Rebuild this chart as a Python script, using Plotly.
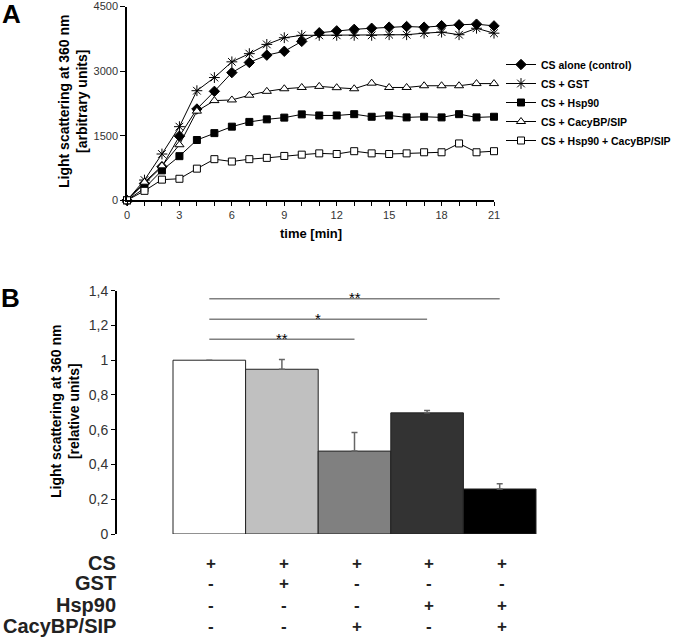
import plotly.graph_objects as go

W, H = 678, 638
FONT = "Liberation Sans, Arial, sans-serif"

# ---------------- Panel A data ----------------
time_min = list(range(22))
cs_alone = [0, 390, 780, 1490, 2120, 2530, 2965, 3200, 3370, 3460, 3690, 3890, 3935, 3970, 3995, 4020, 4035, 4020, 4055, 4075, 4090, 4050]
cs_gst = [0, 470, 1075, 1710, 2545, 2850, 3215, 3405, 3620, 3775, 3830, 3830, 3830, 3830, 3830, 3845, 3845, 3880, 3905, 3845, 3995, 3880]
cs_hsp90 = [0, 280, 695, 1025, 1400, 1560, 1710, 1820, 1880, 1920, 1995, 1970, 1970, 2000, 1940, 1970, 1925, 1940, 1925, 2000, 1925, 1940]
cs_cacy = [0, 420, 800, 1290, 2070, 2315, 2330, 2440, 2530, 2590, 2620, 2645, 2615, 2590, 2720, 2620, 2620, 2660, 2660, 2660, 2710, 2710]
cs_hsp90_cacy = [0, 220, 480, 500, 735, 955, 900, 955, 985, 1030, 1060, 1090, 1075, 1140, 1090, 1075, 1090, 1115, 1115, 1320, 1115, 1140]
series_names = ["CS alone (control)", "CS + GST", "CS + Hsp90", "CS + CacyBP/SIP", "CS + Hsp90 + CacyBP/SIP"]
a_yticks = [0, 1500, 3000, 4500]
a_xticks = [0, 3, 6, 9, 12, 15, 18, 21]

# ---------------- Panel B data ----------------
b_categories = [0, 1, 2, 3, 4]
b_means = [1.0, 0.948, 0.477, 0.697, 0.259]
b_err = [0.0, 0.056, 0.107, 0.014, 0.030]
b_colors = ["#ffffff", "#c0c0c0", "#808080", "#333333", "#000000"]
b_yticks = [0, 0.2, 0.4, 0.6, 0.8, 1.0, 1.2, 1.4]
b_yticktext = ["0", "0,2", "0,4", "0,6", "0,8", "1", "1,2", "1,4"]
sig_from = [0, 0, 0]
sig_to = [2, 3, 4]
sig_level = [1.12, 1.235, 1.353]
sig_label = ["**", "*", "**"]
table_rows = ["CS", "GST", "Hsp90", "CacyBP/SIP"]
table_marks = [
    ["+", "+", "+", "+", "+"],
    ["-", "+", "-", "-", "-"],
    ["-", "-", "-", "+", "+"],
    ["-", "-", "+", "-", "+"],
]


def px(x):
    return x / W


def py(y):
    return 1 - y / H


fig = go.Figure()

styles = [
    dict(symbol="diamond", size=8, color="black", line=dict(color="black", width=1)),
    dict(symbol="asterisk-open", size=9, color="black", line=dict(color="black", width=1)),
    dict(symbol="square", size=7, color="black", line=dict(color="black", width=1)),
    dict(symbol="triangle-up", size=8, color="white", line=dict(color="black", width=1)),
    dict(symbol="square", size=7, color="white", line=dict(color="black", width=1)),
]
for name, ys, st in zip(series_names, [cs_alone, cs_gst, cs_hsp90, cs_cacy, cs_hsp90_cacy], styles):
    fig.add_trace(go.Scatter(
        x=time_min, y=ys, name=name, mode="lines+markers",
        line=dict(color="black", width=1), marker=st,
        cliponaxis=False, xaxis="x", yaxis="y",
    ))

# Panel B bars
fig.add_trace(go.Bar(
    x=b_categories, y=b_means, width=1.0,
    marker=dict(color=b_colors, line=dict(color="#222222", width=1)),
    error_y=dict(type="data", array=b_err, arrayminus=[0] * 5, symmetric=False,
                 color="#666666", thickness=1.5, width=3),
    showlegend=False, xaxis="x2", yaxis="y2",
))

# B x-range: bars start 56px right of the y axis, 72.6 px per category
b_left = -0.5 - 56 / 72.6
b_right = b_left + (560 - 117) / 72.6

fig.update_layout(
    width=W, height=H,
    margin=dict(l=0, r=0, t=0, b=0, autoexpand=False),
    paper_bgcolor="white", plot_bgcolor="white",
    font=dict(family=FONT, color="#222222"),
    showlegend=True,
    legend=dict(
        x=px(501), y=py(50), xanchor="left", yanchor="top",
        font=dict(family=FONT, size=10.5, color="black", weight="bold"),
        bgcolor="rgba(0,0,0,0)", itemwidth=30, tracegroupgap=0,
    ),
    xaxis=dict(
        domain=[px(127), px(494)], range=[0, 21], anchor="y",
        showline=True, linecolor="black", linewidth=1.5,
        ticks="outside", ticklen=4, tickcolor="black",
        tickvals=a_xticks, ticktext=[str(v) for v in a_xticks],
        tickfont=dict(size=11, color="#333333"), ticklabeloverflow="allow",
        minor=dict(dtick=1, ticks="outside", ticklen=4, tickcolor="black"),
        showgrid=False, zeroline=False,
    ),
    yaxis=dict(
        domain=[py(200.3), py(6.5)], range=[0, 4500], anchor="x",
        showline=True, linecolor="black", linewidth=1.5,
        ticks="outside", ticklen=5, tickcolor="black",
        tickvals=a_yticks, ticktext=[str(v) for v in a_yticks],
        tickfont=dict(size=11, color="#333333"), ticklabeloverflow="allow",
        showgrid=False, zeroline=False,
    ),
    xaxis2=dict(
        domain=[px(117), px(560)], range=[b_left, b_right], anchor="y2",
        showline=False, showticklabels=False, ticks="",
        showgrid=False, zeroline=False,
    ),
    yaxis2=dict(
        domain=[py(534), py(290.7)], range=[0, 1.4], anchor="x2",
        showline=True, linecolor="black", linewidth=2,
        ticks="outside", ticklen=4, tickcolor="black",
        tickvals=b_yticks, ticktext=b_yticktext,
        tickfont=dict(size=14, color="#333333"), ticklabeloverflow="allow",
        showgrid=False, zeroline=False,
    ),
)

ann = []
# panel letters
ann.append(dict(text="<b>A</b>", x=px(11.5), y=py(14.5), xref="paper", yref="paper",
                xanchor="center", yanchor="middle", showarrow=False,
                font=dict(family=FONT, size=26, color="black")))
ann.append(dict(text="<b>B</b>", x=px(10.5), y=py(297.5), xref="paper", yref="paper",
                xanchor="center", yanchor="middle", showarrow=False,
                font=dict(family=FONT, size=26, color="black")))
# axis titles
ann.append(dict(text="<b>Light scattering at 360 nm<br>[arbitrary units]</b>",
                x=px(73), y=py(102), xref="paper", yref="paper",
                xanchor="center", yanchor="middle", textangle=-90, showarrow=False,
                font=dict(family=FONT, size=14, color="black")))
ann.append(dict(text="<b>time [min]</b>", x=px(311), y=py(233), xref="paper", yref="paper",
                xanchor="center", yanchor="middle", showarrow=False,
                font=dict(family=FONT, size=13, color="black")))
ann.append(dict(text="<b>Light scattering at 360 nm<br>[relative units]</b>",
                x=px(65), y=py(412), xref="paper", yref="paper",
                xanchor="center", yanchor="middle", textangle=-90, showarrow=False,
                font=dict(family=FONT, size=14, color="black")))

# significance lines
shapes = []
for a, b, lvl, lab in zip(sig_from, sig_to, sig_level, sig_label):
    shapes.append(dict(type="line", xref="x2", yref="y2", x0=a, x1=b, y0=lvl, y1=lvl,
                       line=dict(color="#808080", width=1.5)))
    ann.append(dict(text=lab, x=(a + b) / 2, y=lvl, xref="x2", yref="y2",
                    xanchor="center", yanchor="middle", yshift=1, showarrow=False,
                    font=dict(family=FONT, size=15, color="black")))

# table under panel B
row_y = [563, 583, 605, 626]
for r, (lab, marks) in enumerate(zip(table_rows, table_marks)):
    ann.append(dict(text="<b>" + lab + "</b>", x=px(118), y=py(row_y[r]), xref="paper", yref="paper",
                    xanchor="right", yanchor="middle", showarrow=False,
                    font=dict(family=FONT, size=20, color="#222222")))
    for c, m in enumerate(marks):
        ann.append(dict(text="<b>" + m + "</b>", x=b_categories[c], y=py(row_y[r]), xref="x2", yref="paper",
                        xanchor="center", yanchor="middle", xshift=2, showarrow=False,
                        font=dict(family=FONT, size=17, color="#222222")))

fig.update_layout(annotations=ann, shapes=shapes)
fig.write_html(
    "out.html",
    config={"displayModeBar": False},
    post_script="document.body.style.margin='0';document.body.style.overflow='hidden';",
)
